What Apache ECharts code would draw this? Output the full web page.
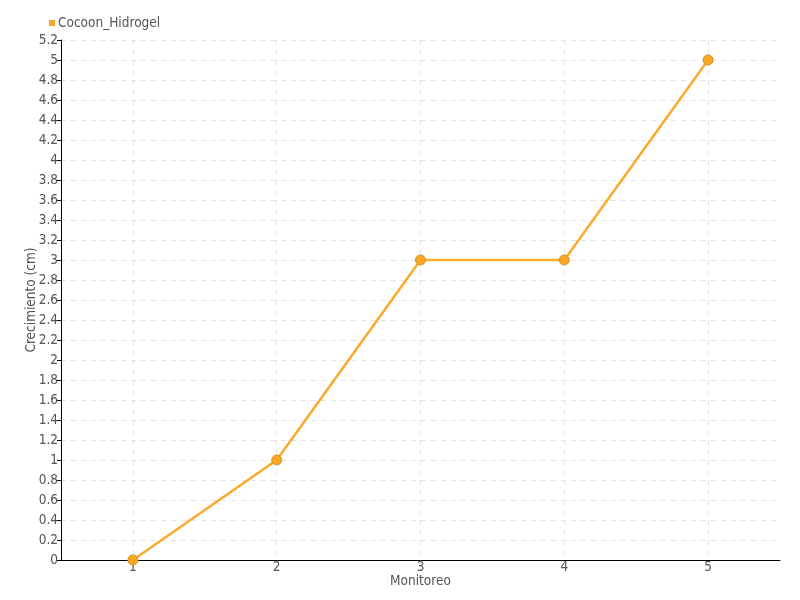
<!DOCTYPE html>
<html>
<head>
<meta charset="utf-8">
<script src="https://cdn.jsdelivr.net/npm/echarts@6/dist/echarts.min.js"></script>
<style>
  html, body { margin: 0; padding: 0; background: #fff; }
  #chart { width: 800px; height: 600px; }
</style>
</head>
<body>
<div id="chart"></div>
<script>
// datos
var monitoreo = ["1", "2", "3", "4", "5"];
var crecimiento = [0, 1, 3, 3, 5];
var serieNombre = "Cocoon_Hidrogel";

var fuente = "'DejaVu Sans Condensed', 'Liberation Sans Narrow', sans-serif";

var chart = echarts.init(document.getElementById("chart"));
chart.setOption({
  animation: false,
  textStyle: { fontFamily: fuente },
  legend: {
    left: 44,
    top: 11,
    itemWidth: 6,
    itemHeight: 6,
    itemGap: 4,
    icon: "rect",
    itemStyle: { borderWidth: 0, color: "#F9A825" },
    textStyle: { fontSize: 13.5, color: "#555", fontFamily: fuente, padding: [0, 0, 0, -2] },
    data: [serieNombre]
  },
  grid: { left: 61, right: 20, top: 40, bottom: 40, containLabel: false },
  xAxis: {
    type: "category",
    data: monitoreo,
    boundaryGap: true,
    name: "Monitoreo",
    nameLocation: "middle",
    nameGap: 14,
    nameMoveOverlap: false,
    nameTextStyle: { fontSize: 13.5, color: "#555" },
    axisLine: { lineStyle: { color: "#000", width: 1 } },
    axisTick: { alignWithLabel: true, length: 4, lineStyle: { color: "#000" } },
    axisLabel: { fontSize: 13.5, color: "#555", margin: 0 },
    splitLine: { show: true, alignWithLabel: true, lineStyle: { type: [5, 5], color: "#e3e3e3" } }
  },
  yAxis: {
    type: "value",
    min: 0,
    max: 5.2,
    interval: 0.2,
    name: "Crecimiento (cm)",
    nameLocation: "middle",
    nameGap: 23,
    nameMoveOverlap: false,
    nameTextStyle: { fontSize: 13.5, color: "#555" },
    axisLine: { show: true, lineStyle: { color: "#000", width: 1 } },
    axisTick: { show: true, length: 4, lineStyle: { color: "#000" } },
    axisLabel: {
      fontSize: 13.5, color: "#555", margin: 3,
      formatter: function (v) { return String(Math.round(v * 10) / 10); }
    },
    splitLine: { show: true, lineStyle: { type: [5, 5], color: "#e3e3e3" } }
  },
  series: [{
    name: serieNombre,
    type: "line",
    data: crecimiento,
    symbol: "circle",
    symbolSize: 10,
    lineStyle: { color: "#FBAB2B", width: 2.5 },
    itemStyle: { color: "#F9A825", borderColor: "#D8901E", borderWidth: 1 }
  }]
});
</script>
</body>
</html>
